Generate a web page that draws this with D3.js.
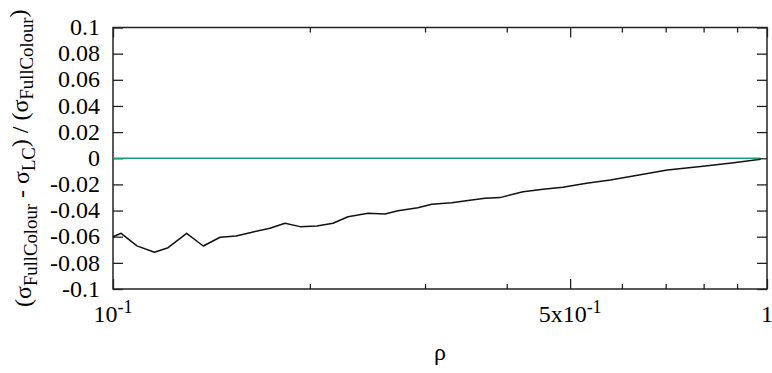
<!DOCTYPE html>
<html>
<head>
<meta charset="utf-8">
<script src="https://cdn.jsdelivr.net/npm/d3@7"></script>
</head>
<body style="margin:0">
<svg id="chart" width="772" height="373">
  <style>
    .lbl { font-family: "Liberation Serif", "Times New Roman", Tinos; }
  </style>
</svg>
<script>
// Density values ρ at which both configurations were evaluated
const rho = [0.1, 0.1029, 0.1088, 0.1157, 0.1214, 0.1296, 0.1374, 0.1458, 0.1542, 0.1620,
             0.1738, 0.1832, 0.1932, 0.2049, 0.2170, 0.2287, 0.2455, 0.2605, 0.2727, 0.2925,
             0.3072, 0.3296, 0.3490, 0.3705, 0.3907, 0.4237, 0.4545, 0.4873, 0.5297, 0.5760,
             0.6244, 0.7039, 0.7920, 0.8893, 0.9780];

// Relative difference (σFullColour - σLC) / σFullColour
const relDiffLC = [-0.0600, -0.0574, -0.0670, -0.0719, -0.0684, -0.0574, -0.0671, -0.0604, -0.0594, -0.0569,
                   -0.0536, -0.0497, -0.0523, -0.0518, -0.0497, -0.0447, -0.0421, -0.0426, -0.0401, -0.0378,
                   -0.0352, -0.0340, -0.0324, -0.0306, -0.0301, -0.0256, -0.0237, -0.0222, -0.0191, -0.0166,
                   -0.0135, -0.0090, -0.0064, -0.0034, -0.0008];

// Reference series: full colour compared with itself
const relDiffFull = rho.map(() => 0);

// Axis ticks
const yTicks = [-0.1, -0.08, -0.06, -0.04, -0.02, 0, 0.02, 0.04, 0.06, 0.08, 0.1];
const yTickLabels = ["-0.1", "-0.08", "-0.06", "-0.04", "-0.02", "0", "0.02", "0.04", "0.06", "0.08", "0.1"];
const xMajor = [0.1, 0.5, 1];
const xMajorLabels = [["10", "-1"], ["5x10", "-1"], ["1", ""]];
const xMinor = [0.2, 0.3, 0.4, 0.6, 0.7, 0.8, 0.9];

const svg = d3.select("#chart");
const plotLeft = 113, plotRight = 767, plotTop = 27.5, plotBottom = 289;
const fs = 24;

const x = d3.scaleLog().domain([0.1, 1]).range([plotLeft, plotRight]);
const y = d3.scaleLinear().domain([-0.1, 0.1]).range([plotBottom, plotTop]);
const frameColor = "#222";

// every label uses a Times-style face
function label(sel, size) {
  return sel.attr("class", "lbl")
    .attr("font-family", "Liberation Serif")
    .style("font-family", '"Liberation Serif"')
    .style("font-size", size + "px");
}

// ticks (inward, mirrored on all four sides), drawn without labels
const tickLayer = svg.append("g");
tickLayer.append("g").attr("transform", `translate(${plotLeft},0)`)
  .call(d3.axisLeft(y).tickValues(yTicks).tickSize(-10).tickFormat(""));
tickLayer.append("g").attr("transform", `translate(${plotRight},0)`)
  .call(d3.axisRight(y).tickValues(yTicks).tickSize(-10).tickFormat(""));
tickLayer.append("g").attr("transform", `translate(0,${plotBottom})`)
  .call(d3.axisBottom(x).tickValues(xMajor).tickSize(-10).tickFormat(""));
tickLayer.append("g").attr("transform", `translate(0,${plotBottom})`)
  .call(d3.axisBottom(x).tickValues(xMinor).tickSize(-5).tickFormat(""));
tickLayer.append("g").attr("transform", `translate(0,${plotTop})`)
  .call(d3.axisTop(x).tickValues(xMajor).tickSize(-10).tickFormat(""));
tickLayer.append("g").attr("transform", `translate(0,${plotTop})`)
  .call(d3.axisTop(x).tickValues(xMinor).tickSize(-5).tickFormat(""));
tickLayer.selectAll(".domain").remove();
tickLayer.selectAll("text").remove();
tickLayer.selectAll(".tick line").attr("stroke", frameColor).attr("stroke-width", 1.3);

// y tick labels, placed from the scale
yTicks.forEach((v, i) => {
  label(svg.append("text"), fs)
    .attr("x", plotLeft - 13).attr("y", y(v)).attr("dy", "0.32em")
    .attr("text-anchor", "end").text(yTickLabels[i]);
});

// x tick labels with superscript exponents
xMajor.forEach((v, i) => {
  const t = label(svg.append("text"), fs)
    .attr("x", x(v)).attr("y", plotBottom + 16).attr("dy", "0.71em")
    .attr("text-anchor", "middle");
  t.append("tspan").text(xMajorLabels[i][0]);
  if (xMajorLabels[i][1]) {
    t.append("tspan").attr("dy", "-0.5em").style("font-size", (fs * 0.75) + "px").text(xMajorLabels[i][1]);
  }
});

// plot border
svg.append("rect")
  .attr("x", plotLeft).attr("y", plotTop)
  .attr("width", plotRight - plotLeft).attr("height", plotBottom - plotTop)
  .attr("fill", "none").attr("stroke", frameColor).attr("stroke-width", 1.5);

// data lines
const line = d3.line().x((d, i) => x(rho[i])).y(d => y(d));
svg.append("path").datum(relDiffFull)
  .attr("d", line).attr("fill", "none")
  .attr("stroke", "#1a9e78").attr("stroke-width", 1.6);
svg.append("path").datum(relDiffLC)
  .attr("d", line).attr("fill", "none")
  .attr("stroke", "#111").attr("stroke-width", 1.5).attr("stroke-linejoin", "round");

// axis titles
label(svg.append("text"), fs)
  .attr("x", (plotLeft + plotRight) / 2).attr("y", 360)
  .attr("text-anchor", "middle").text("ρ");

const yTitle = label(svg.append("text"), fs)
  .attr("transform", `translate(31,${(plotTop + plotBottom) / 2}) rotate(-90)`)
  .attr("text-anchor", "middle");
const sub = (fs * 0.78) + "px";
yTitle.append("tspan").text("(σ");
yTitle.append("tspan").attr("dy", "0.3em").style("font-size", sub).text("FullColour");
yTitle.append("tspan").attr("dy", "-0.3em").text(" - σ");
yTitle.append("tspan").attr("dy", "0.3em").style("font-size", sub).text("LC");
yTitle.append("tspan").attr("dy", "-0.3em").text(") / (σ");
yTitle.append("tspan").attr("dy", "0.3em").style("font-size", sub).text("FullColour");
yTitle.append("tspan").attr("dy", "-0.3em").text(")");
</script>
</body>
</html>
